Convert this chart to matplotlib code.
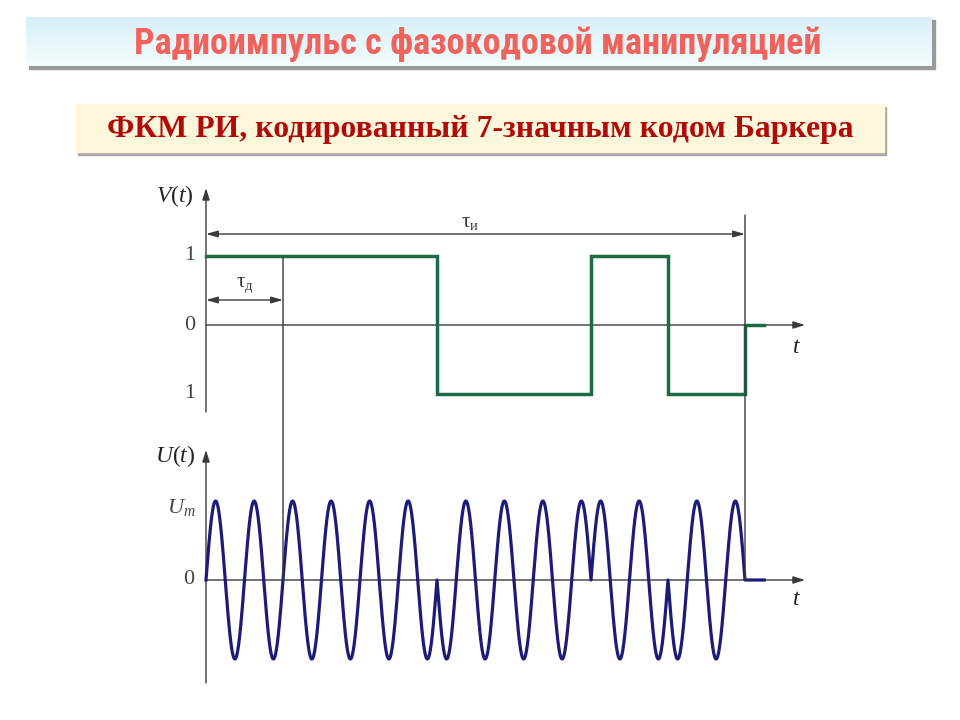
import numpy as np
import matplotlib
matplotlib.use("Agg")
import matplotlib.pyplot as plt
from matplotlib import font_manager
from matplotlib.patches import Rectangle, ConnectionPatch

# ---------------- data ----------------
barker_code = [1, 1, 1, -1, -1, 1, -1]          # 7-chip Barker code
periods_per_chip = 2                              # carrier periods per chip
tail_length = 0.25                                # zero segment after pulse
title_text = "Радиоимпульс с фазокодовой манипуляцией"
subtitle_text = "ФКМ РИ, кодированный 7-значным кодом Баркера"
v_ticks = [1, 0, -1]
v_tick_labels = ["1", "0", "1"]
u_ticks = [1, 0]
u_tick_labels = [r"$U_m$", "0"]

# ---------------- fonts ----------------
names = {f.name for f in font_manager.fontManager.ttflist}
title_font = next((f for f in ["Liberation Sans Narrow", "Roboto Condensed", "Roboto", "DejaVu Sans"]
                   if f in names), "DejaVu Sans")
serif = "Liberation Serif"
plt.rcParams["mathtext.fontset"] = "custom"
plt.rcParams["mathtext.rm"] = serif
plt.rcParams["mathtext.it"] = serif + ":italic"
plt.rcParams["mathtext.bf"] = serif + ":bold"

W, H = 960, 720
fig = plt.figure(figsize=(W / 100, H / 100), dpi=100)
fig.patch.set_facecolor("white")

def px_axes(x0, y0, x1, y1):
    return fig.add_axes([x0 / W, 1 - y1 / H, (x1 - x0) / W, (y1 - y0) / H])

def fit_width(txt, target_px, max_size):
    r = fig.canvas.get_renderer()
    w = txt.get_window_extent(renderer=r).width
    if w > 0:
        txt.set_fontsize(min(max_size, txt.get_fontsize() * target_px / w))

# ---------------- header boxes ----------------
hdr = fig.add_axes([0, 0, 1, 1])
hdr.axis("off")
hdr.add_patch(Rectangle((29, 20), 906, 49, color="#9a9a9a", zorder=1))
grad = np.linspace(0, 1, 64).reshape(-1, 1)
c_top = np.array([0.85, 0.94, 0.97])
c_bot = np.array([0.95, 0.99, 0.99])
img = c_top + (c_bot - c_top) * grad[..., None]
hdr.imshow(img, extent=(26, 932, 66, 17), aspect="auto", zorder=2)
t1 = hdr.text(478, 44, title_text, ha="center", va="center", color="#f0625c",
              fontsize=24, fontweight="bold", family=title_font, zorder=3)
hdr.add_patch(Rectangle((78, 107), 808, 48, color="#a8a8a8", zorder=1))
hdr.add_patch(Rectangle((76, 104), 808, 48, color="#fdf8dc", zorder=2))
t2 = hdr.text(480, 129, subtitle_text, ha="center", va="center", color="#b00a0a",
              fontsize=23, fontweight="bold", family=serif, zorder=3)
hdr.set_xlim(0, W)
hdr.set_ylim(H, 0)
fit_width(t1, 700, 26)
fit_width(t2, 748, 25)

# ---------------- coordinate helpers ----------------
X0, CHIP = 206.0, 77.0   # pixel of t=0 and pixels per chip

def setup(ax, ybox, zero_px, unit_px):
    ax.set_xlim((140 - X0) / CHIP, (830 - X0) / CHIP)
    ax.set_ylim((zero_px - ybox[1]) / unit_px, (zero_px - ybox[0]) / unit_px)
    ax.axis("off")

axis_col = "#3a3a3a"
arrow_kw = dict(arrowstyle="-|>,head_length=0.7,head_width=0.22", color=axis_col, lw=1.0,
                shrinkA=0, shrinkB=0)

# ---------------- top: V(t) ----------------
ax1 = px_axes(140, 175, 830, 425)
setup(ax1, (175, 425), 325, 69.0)
n = len(barker_code)
tx = np.arange(n + 1)
vy = np.array(barker_code + [0])
ax1.annotate("", xy=(0, (325 - 188) / 69), xytext=(0, (325 - 412) / 69), arrowprops=arrow_kw)
ax1.annotate("", xy=((805 - X0) / CHIP, 0), xytext=(0, 0), arrowprops=arrow_kw)
ax1.step(np.append(tx, n + tail_length), np.append(vy, 0), where="post",
         color="#1d6b45", lw=2.5, solid_joinstyle="miter", zorder=5)
ty = (325 - 234) / 69
ax1.annotate("", xy=(0, ty), xytext=(n, ty),
             arrowprops=dict(arrowstyle="<|-|>,head_length=0.7,head_width=0.2",
                             color=axis_col, lw=1.0, shrinkA=0, shrinkB=0))
ax1.text(3.43, (325 - 222) / 69, r"$\mathrm{\tau_{и}}$", ha="center", va="center",
         fontsize=15, color="#333333")
dy = (325 - 300) / 69
ax1.annotate("", xy=(0, dy), xytext=(1, dy),
             arrowprops=dict(arrowstyle="<|-|>,head_length=0.7,head_width=0.2",
                             color=axis_col, lw=1.0, shrinkA=0, shrinkB=0))
ax1.text(0.5, (325 - 285) / 69, r"$\mathrm{\tau_{д}}$", ha="center", va="center",
         fontsize=15, color="#333333")
for v, lab in zip(v_ticks, v_tick_labels):
    ax1.text(-(206 - 190) / CHIP, v, lab, ha="center", va="center", fontsize=16,
             family=serif, color="#444444")
ax1.text(-(206 - 175) / CHIP, (325 - 196) / 69, r"$V(t)$", ha="center", va="center",
         fontsize=17, color="#222222")
ax1.text((797 - X0) / CHIP, (325 - 346) / 69, r"$t$", ha="center", va="center",
         fontsize=17, color="#222222")

# ---------------- bottom: U(t) ----------------
ax2 = px_axes(140, 440, 830, 690)
setup(ax2, (440, 690), 580, 79.0)
ax2.annotate("", xy=(0, (580 - 450) / 79), xytext=(0, (580 - 683) / 79), arrowprops=arrow_kw)
ax2.annotate("", xy=((805 - X0) / CHIP, 0), xytext=(0, 0), arrowprops=arrow_kw)
t = np.linspace(0, n, n * 400 + 1)
chip_idx = np.minimum(np.floor(t).astype(int), n - 1)
u = np.array(barker_code)[chip_idx] * np.sin(2 * np.pi * periods_per_chip * t)
t_full = np.concatenate([t, [n, n + tail_length]])
u_full = np.concatenate([u, [0, 0]])
ax2.plot(t_full, u_full, color="#1c1c78", lw=2.3, zorder=5)
for v, lab in zip(u_ticks, u_tick_labels):
    xx = -(206 - 181) / CHIP if v == 1 else -(206 - 189) / CHIP
    ax2.text(xx, (580 - 508) / 79 if v == 1 else v, lab, ha="center", va="center",
             fontsize=16, family=serif, color="#444444")
ax2.text(-(206 - 175) / CHIP, (580 - 456) / 79, r"$U(t)$", ha="center", va="center",
         fontsize=17, color="#222222")
ax2.text((797 - X0) / CHIP, (580 - 598) / 79, r"$t$", ha="center", va="center",
         fontsize=17, color="#222222")

# ---------------- connecting vertical lines ----------------
for xv, ytop in [(1, 1.0), (n, (325 - 215) / 69)]:
    cp = ConnectionPatch(xyA=(xv, ytop), coordsA=ax1.transData,
                         xyB=(xv, 0), coordsB=ax2.transData,
                         color=axis_col, lw=1.0, zorder=1)
    fig.add_artist(cp)

fig.savefig("out.png", dpi=100, facecolor="white")
